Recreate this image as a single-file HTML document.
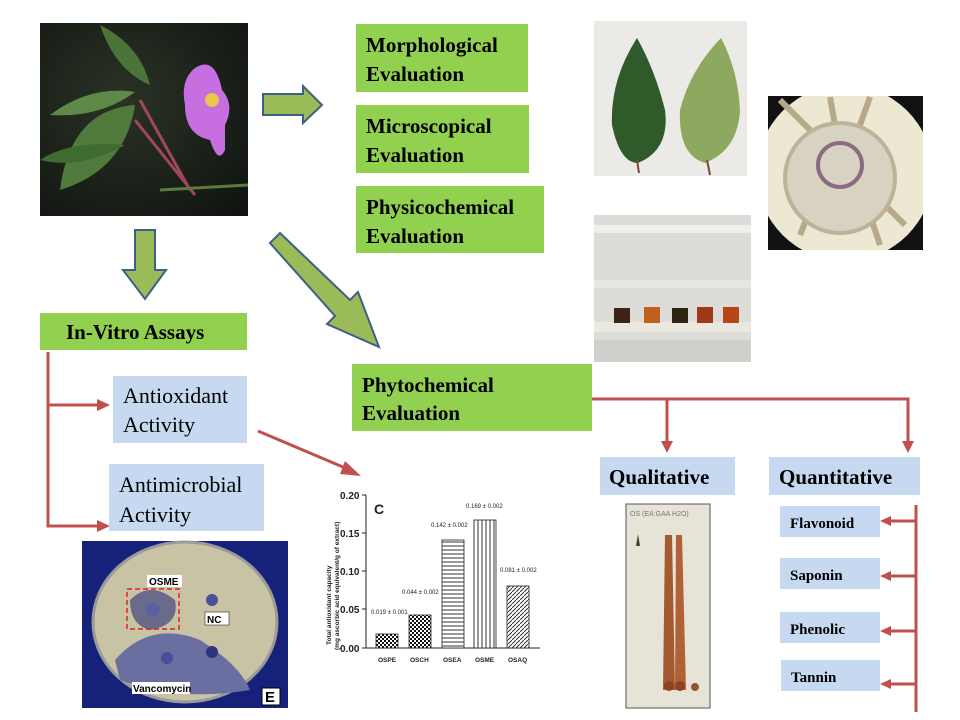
<!DOCTYPE html>
<html><head><meta charset="utf-8"><style>
html,body{margin:0;padding:0;background:#fff;width:960px;height:720px;overflow:hidden}
svg{display:block}
.b{font-family:"Liberation Serif",serif;font-weight:bold;fill:#000}
.n{font-family:"Liberation Serif",serif;fill:#000}
.s{font-family:"Liberation Sans",sans-serif;font-weight:bold;fill:#000}
</style></head><body>
<svg width="960" height="720" viewBox="0 0 960 720">
<defs>
<pattern id="hz" width="4" height="4" patternUnits="userSpaceOnUse"><rect width="4" height="4" fill="#fff"/><line x1="0" y1="2" x2="4" y2="2" stroke="#333" stroke-width="1"/></pattern>
<pattern id="vt" width="4" height="4" patternUnits="userSpaceOnUse"><rect width="4" height="4" fill="#fff"/><line x1="2" y1="0" x2="2" y2="4" stroke="#333" stroke-width="1"/></pattern>
<pattern id="dg" width="4" height="4" patternUnits="userSpaceOnUse"><rect width="4" height="4" fill="#fff"/><path d="M0,4L4,0" stroke="#333" stroke-width="1"/></pattern>
<pattern id="ck" width="4" height="4" patternUnits="userSpaceOnUse"><rect width="4" height="4" fill="#fff"/><rect width="2" height="2" fill="#111"/><rect x="2" y="2" width="2" height="2" fill="#111"/></pattern>
<radialGradient id="bg" cx="0.4" cy="0.4" r="0.8"><stop offset="0" stop-color="#2a3326"/><stop offset="1" stop-color="#101410"/></radialGradient>
<clipPath id="mc"><rect x="768" y="96" width="155" height="154"/></clipPath>
<clipPath id="pc"><rect x="40" y="23" width="208" height="193"/></clipPath>
</defs>

<!-- plant photo -->
<g clip-path="url(#pc)">
<rect x="40" y="23" width="208" height="193" fill="url(#bg)"/>
<path d="M60,190 Q70,110 135,105 Q125,170 60,190Z" fill="#4f7a3c"/>
<path d="M50,115 Q90,85 135,92 Q100,118 50,115Z" fill="#5e8a48"/>
<path d="M100,25 Q140,45 150,85 Q115,70 100,25Z" fill="#4c7438"/>
<path d="M40,160 Q70,140 125,145 Q80,170 40,160Z" fill="#3f6a30"/>
<path d="M140,100 L190,190 M135,120 L195,195" stroke="#a0485a" stroke-width="3" fill="none"/>
<path d="M160,190 L248,185" stroke="#5a7a40" stroke-width="3"/>
<path d="M195,68 Q215,55 222,90 Q235,105 225,125 L225,150 Q218,165 210,140 Q185,135 185,105 Q180,80 195,68Z" fill="#c76fe0"/>
<circle cx="212" cy="100" r="7" fill="#e8c84a"/>
</g>

<!-- right arrow -->
<path d="M263,94 L303,94 L303,86 L322,105 L303,123 L303,115 L263,115Z" fill="#9bbb59" stroke="#3f5f87" stroke-width="2"/>
<!-- down arrow -->
<path d="M135,230 L155,230 L155,270 L166,270 L145,299 L123,270 L135,270Z" fill="#9bbb59" stroke="#3f5f87" stroke-width="2"/>
<!-- diagonal arrow -->
<path d="M270,243 L280,233 L350,300 L358,292 L379,347 L327,324 L335,316 Z" fill="#9bbb59" stroke="#3f5f87" stroke-width="2"/>

<!-- green boxes -->
<rect x="356" y="24" width="172" height="68" fill="#92d050"/>
<text class="b" x="366" y="52" font-size="21">Morphological</text>
<text class="b" x="366" y="81" font-size="21">Evaluation</text>
<rect x="356" y="105" width="173" height="68" fill="#92d050"/>
<text class="b" x="366" y="133" font-size="21">Microscopical</text>
<text class="b" x="366" y="162" font-size="21">Evaluation</text>
<rect x="356" y="186" width="188" height="67" fill="#92d050"/>
<text class="b" x="366" y="214" font-size="21">Physicochemical</text>
<text class="b" x="366" y="243" font-size="21">Evaluation</text>

<!-- leaves photo -->
<rect x="594" y="21" width="153" height="155" fill="#eceae6"/>
<path d="M637,38 Q610,80 612,125 Q620,163 638,163 Q670,150 665,110 Q655,70 637,38Z" fill="#2f5a2a"/>
<path d="M721,38 Q690,70 680,110 Q678,155 705,163 Q738,150 740,110 Q738,70 721,38Z" fill="#8fa860"/>
<path d="M637,160 L639,173 M707,160 L710,175" stroke="#7a4a30" stroke-width="2"/>

<!-- microscope -->
<g clip-path="url(#mc)">
<rect x="768" y="96" width="155" height="154" fill="#111"/>
<circle cx="845" cy="173" r="88" fill="#ece8d2"/>
<path d="M780,100 L810,130 M830,97 L835,125 M870,97 L860,125 M800,235 L810,210 M880,245 L870,215 M905,225 L885,205" stroke="#b5a98a" stroke-width="6"/>
<circle cx="840" cy="178" r="55" fill="#d7d2c2" stroke="#bdb39a" stroke-width="4"/>
<circle cx="840" cy="165" r="22" fill="none" stroke="#8a6b80" stroke-width="4"/>
</g>

<!-- test tubes -->
<rect x="594" y="215" width="157" height="147" fill="#dcdcd8"/>
<rect x="594" y="225" width="157" height="8" fill="#efeee8"/>
<rect x="594" y="280" width="157" height="8" fill="#e8e6de"/>
<rect x="594" y="322" width="157" height="10" fill="#ebe8e0"/>
<rect x="594" y="340" width="157" height="22" fill="#cfcfcb"/>
<rect x="614" y="308" width="16" height="15" fill="#3a2414"/>
<rect x="644" y="307" width="16" height="16" fill="#c0601a"/>
<rect x="672" y="308" width="16" height="15" fill="#2d2414"/>
<rect x="697" y="307" width="16" height="16" fill="#a0381a"/>
<rect x="723" y="307" width="16" height="16" fill="#b84418"/>

<!-- In-vitro -->
<rect x="40" y="313" width="207" height="37" fill="#92d050"/>
<text class="b" x="66" y="339" font-size="21">In-Vitro Assays</text>

<!-- phytochemical -->
<rect x="352" y="364" width="240" height="67" fill="#92d050"/>
<text class="b" x="362" y="392" font-size="21">Phytochemical</text>
<text class="b" x="362" y="420" font-size="21">Evaluation</text>

<!-- red connectors -->
<g stroke="#c0504d" stroke-width="3" fill="none">
<path d="M48,352 L48,526 L100,526"/>
<path d="M48,405 L100,405"/>
<path d="M592,399 L908,399 L908,443"/>
<path d="M667,399 L667,443"/>
<path d="M916,505 L916,712"/>
<path d="M916,521 L888,521 M916,576 L888,576 M916,631 L888,631 M916,684 L888,684"/>
<path d="M258,431 L350,470"/>
</g>
<g fill="#c0504d">
<path d="M110,405 L97,399 L97,411Z"/>
<path d="M110,526 L97,520 L97,532Z"/>
<path d="M667,453 L661,441 L673,441Z"/>
<path d="M908,453 L902,441 L914,441Z"/>
<path d="M880,521 L891,516 L891,526Z"/>
<path d="M880,576 L891,571 L891,581Z"/>
<path d="M880,631 L891,626 L891,636Z"/>
<path d="M880,684 L891,679 L891,689Z"/>
<path d="M361,476 L345,461 L340,474Z"/>
</g>

<!-- light blue boxes -->
<rect x="113" y="376" width="134" height="67" fill="#c6d9f1"/>
<text class="n" x="123" y="403" font-size="22">Antioxidant</text>
<text class="n" x="123" y="432" font-size="22">Activity</text>
<rect x="109" y="464" width="155" height="67" fill="#c6d9f1"/>
<text class="n" x="119" y="492" font-size="22">Antimicrobial</text>
<text class="n" x="119" y="522" font-size="22">Activity</text>

<rect x="600" y="457" width="135" height="38" fill="#c6d9f1"/>
<text class="b" x="609" y="484" font-size="21">Qualitative</text>
<rect x="769" y="457" width="151" height="38" fill="#c6d9f1"/>
<text class="b" x="779" y="484" font-size="21">Quantitative</text>

<rect x="780" y="506" width="100" height="31" fill="#c6d9f1"/>
<text class="b" x="790" y="528" font-size="15">Flavonoid</text>
<rect x="780" y="558" width="100" height="31" fill="#c6d9f1"/>
<text class="b" x="790" y="580" font-size="15">Saponin</text>
<rect x="780" y="612" width="100" height="31" fill="#c6d9f1"/>
<text class="b" x="790" y="634" font-size="15">Phenolic</text>
<rect x="781" y="660" width="99" height="31" fill="#c6d9f1"/>
<text class="b" x="791" y="682" font-size="15">Tannin</text>

<!-- TLC -->
<rect x="626" y="504" width="84" height="204" fill="#e7e3d6" stroke="#555" stroke-width="1"/>
<path d="M665,535 L663,690 L675,690 L672,535Z" fill="#a45a30"/>
<path d="M676,535 L675,690 L686,690 L682,535Z" fill="#b06236"/>
<circle cx="669" cy="686" r="5" fill="#8a4424"/><circle cx="680" cy="686" r="5" fill="#8a4424"/><circle cx="695" cy="687" r="4" fill="#9a5030"/>
<path d="M638,534 L640,546 L636,546Z" fill="#4a4020"/>
<text x="630" y="516" font-size="7" font-family="Liberation Sans" fill="#777">OS (EA:GAA H2O)</text>

<!-- petri dish -->
<rect x="82" y="541" width="206" height="167" fill="#16217a"/>
<ellipse cx="185" cy="622" rx="92" ry="80" fill="#c9c3a5" stroke="#9a9a9a" stroke-width="3"/>
<path d="M115,660 Q150,620 200,640 Q240,665 250,690 Q180,702 120,680Z" fill="#6a6ea0"/>
<path d="M130,600 Q150,580 175,600 Q180,625 150,630 Q130,625 130,600Z" fill="#6a6a8a"/>
<circle cx="153" cy="610" r="7" fill="#5a5fa0"/>
<circle cx="212" cy="600" r="6" fill="#4a4e9a"/>
<circle cx="212" cy="652" r="6" fill="#30337a"/>
<circle cx="167" cy="658" r="6" fill="#4a4e9a"/>
<rect x="127" y="589" width="52" height="40" fill="none" stroke="#e02020" stroke-width="1.5" stroke-dasharray="5,3"/>
<rect x="147" y="575" width="35" height="12" fill="#fff"/>
<text class="s" x="149" y="585" font-size="10">OSME</text>
<rect x="205" y="612" width="24" height="13" fill="#fff" stroke="#000" stroke-width="0.5"/>
<text class="s" x="207" y="623" font-size="10">NC</text>
<rect x="132" y="682" width="58" height="12" fill="#fff"/>
<text class="s" x="133" y="692" font-size="10">Vancomycin</text>
<rect x="262" y="688" width="18" height="17" fill="#fff" stroke="#000"/>
<text class="s" x="265" y="702" font-size="15">E</text>

<!-- chart -->
<g font-family="Liberation Sans,sans-serif" fill="#222">
<line x1="366" y1="495" x2="366" y2="648" stroke="#222" stroke-width="1"/>
<line x1="366" y1="648" x2="540" y2="648" stroke="#222" stroke-width="1"/>
<line x1="362" y1="495" x2="366" y2="495" stroke="#222"/><line x1="362" y1="533" x2="366" y2="533" stroke="#222"/>
<line x1="362" y1="571" x2="366" y2="571" stroke="#222"/><line x1="362" y1="609" x2="366" y2="609" stroke="#222"/>
<line x1="362" y1="648" x2="366" y2="648" stroke="#222"/>
<text x="340" y="499" font-size="10" font-weight="bold">0.20</text>
<text x="340" y="537" font-size="10" font-weight="bold">0.15</text>
<text x="340" y="575" font-size="10" font-weight="bold">0.10</text>
<text x="340" y="613" font-size="10" font-weight="bold">0.05</text>
<text x="340" y="652" font-size="10" font-weight="bold">0.00</text>
<text x="374" y="514" font-size="14" font-weight="bold">C</text>
<text transform="translate(331,645) rotate(-90)" font-size="6.5" font-weight="bold">Total antioxidant capacity</text>
<text transform="translate(339,650) rotate(-90)" font-size="6.5" font-weight="bold">(mg ascorbic acid equivalent/g of extract)</text>
<rect x="376" y="634" width="22" height="14" fill="url(#ck)" stroke="#222" stroke-width="0.8"/>
<rect x="409" y="615" width="22" height="33" fill="url(#ck)" stroke="#222" stroke-width="0.8"/>
<rect x="442" y="540" width="22" height="108" fill="url(#hz)" stroke="#222" stroke-width="0.8"/>
<rect x="474" y="520" width="22" height="128" fill="url(#vt)" stroke="#222" stroke-width="0.8"/>
<rect x="507" y="586" width="22" height="62" fill="url(#dg)" stroke="#222" stroke-width="0.8"/>
<text x="371" y="614" font-size="6">0.019 ± 0.001</text>
<text x="402" y="594" font-size="6">0.044 ± 0.002</text>
<text x="431" y="527" font-size="6">0.142 ± 0.002</text>
<text x="466" y="508" font-size="6">0.169 ± 0.002</text>
<text x="500" y="572" font-size="6">0.081 ± 0.002</text>
<text x="378" y="662" font-size="6.5" font-weight="bold">OSPE</text>
<text x="410" y="662" font-size="6.5" font-weight="bold">OSCH</text>
<text x="443" y="662" font-size="6.5" font-weight="bold">OSEA</text>
<text x="475" y="662" font-size="6.5" font-weight="bold">OSME</text>
<text x="508" y="662" font-size="6.5" font-weight="bold">OSAQ</text>
</g>
</svg>
</body></html>
